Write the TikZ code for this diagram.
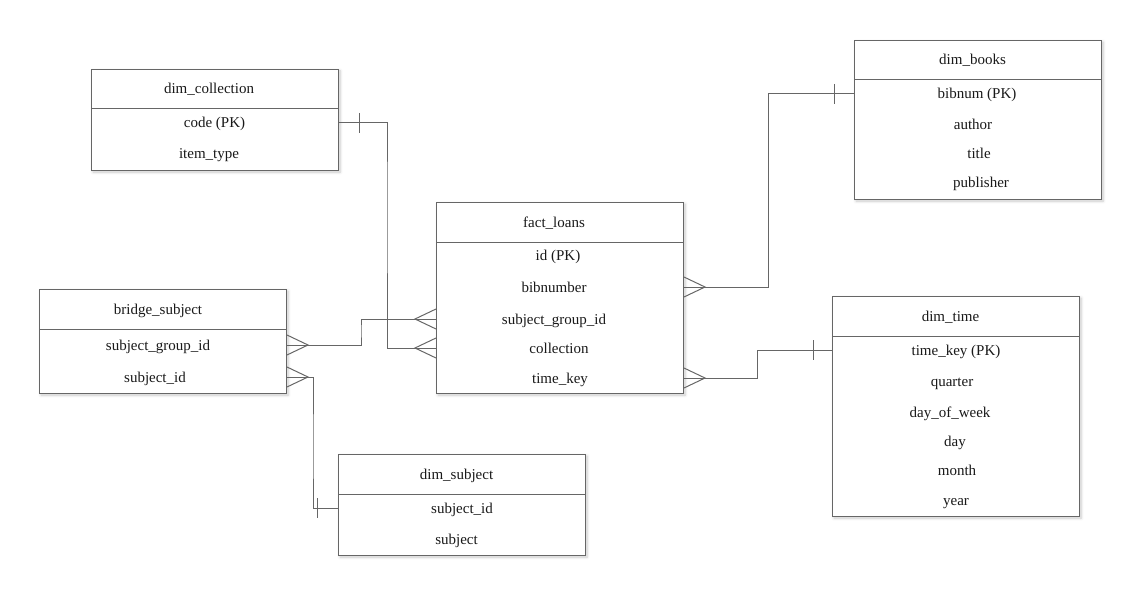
\documentclass[tikz,border=0pt]{standalone}
\usepackage{fontspec}
\setmainfont{Liberation Serif}
\usetikzlibrary{shadows.blur}
\definecolor{edge}{HTML}{666666}
\begin{document}
\begin{tikzpicture}[x=1pt,y=-1pt,
  tbl/.style={draw=edge, line width=1pt, fill=white, anchor=north west, inner sep=0pt,
    minimum width=247pt,
    blur shadow={shadow xshift=1.5pt, shadow yshift=-1.5pt, shadow blur steps=6,
      shadow opacity=22, shadow blur radius=3pt}},
  fld/.style={font=\fontsize{15}{17}\selectfont, inner sep=0pt, anchor=center,
    text height=11pt, text depth=1pt, text=black!90},
  link/.style={draw=edge, line width=1pt}]
\useasboundingbox (0,0) rectangle (1142,596);

% ---------- tables ----------
\node[tbl, minimum height=101pt] (col) at (91,69) {};
\draw[link] ([yshift=-40pt]col.north west) -- ([yshift=-40pt]col.north east);
\node[fld] (colh) at (209,89) {dim\_collection};
\node[fld] (colcode) at (214.5,123) {code (PK)};
\node[fld] (coltype) at (209,154) {item\_type};

\node[tbl, minimum height=159pt] (books) at (854,40) {};
\draw[link] ([yshift=-40pt]books.north west) -- ([yshift=-40pt]books.north east);
\node[fld] (booksh) at (972.5,60) {dim\_books};
\node[fld] (bbib) at (977,94) {bibnum (PK)};
\node[fld] (bauth) at (973,125) {author};
\node[fld] (btitle) at (979,154) {title};
\node[fld] (bpub) at (981,183) {publisher};

\node[tbl, minimum height=191pt] (fact) at (436,202) {};
\draw[link] ([yshift=-40pt]fact.north west) -- ([yshift=-40pt]fact.north east);
\node[fld] (facth) at (554,222) {fact\_loans};
\node[fld] (fid) at (558,255) {id (PK)};
\node[fld] (fbib) at (554,287) {bibnumber};
\node[fld] (fsg) at (554,319) {subject\_group\_id};
\node[fld] (fcoll) at (559,348) {collection};
\node[fld] (ftime) at (560,378) {time\_key};

\node[tbl, minimum height=104pt] (bridge) at (39,289) {};
\draw[link] ([yshift=-40pt]bridge.north west) -- ([yshift=-40pt]bridge.north east);
\node[fld] (bridgeh) at (158,309) {bridge\_subject};
\node[fld] (brsg) at (158,345) {subject\_group\_id};
\node[fld] (brsid) at (155,377) {subject\_id};

\node[tbl, minimum height=220pt] (time) at (832,296) {};
\draw[link] ([yshift=-40pt]time.north west) -- ([yshift=-40pt]time.north east);
\node[fld] (timeh) at (950.5,316) {dim\_time};
\node[fld] (tkey) at (956,350) {time\_key (PK)};
\node[fld] (tq) at (952,381) {quarter};
\node[fld] (tdow) at (950,412) {day\_of\_week};
\node[fld] (tday) at (955,441) {day};
\node[fld] (tmonth) at (957,470) {month};
\node[fld] (tyear) at (956,500) {year};

\node[tbl, minimum height=101pt] (subj) at (338,454) {};
\draw[link] ([yshift=-40pt]subj.north west) -- ([yshift=-40pt]subj.north east);
\node[fld] (subjh) at (456.5,474) {dim\_subject};
\node[fld] (ssid) at (462,508) {subject\_id};
\node[fld] (ssubj) at (456.5,539) {subject};

% ---------- connector end points ----------
\coordinate (colR) at (col.east |- colcode);
\coordinate (factLcoll) at (fact.west |- fcoll);
\coordinate (booksL) at (books.west |- bbib);
\coordinate (factRbib) at (fact.east |- fbib);
\coordinate (bridgeRsg) at (bridge.east |- brsg);
\coordinate (factLsg) at (fact.west |- fsg);
\coordinate (bridgeRsid) at (bridge.east |- brsid);
\coordinate (subjL) at (subj.west |- ssid);
\coordinate (factRtime) at (fact.east |- ftime);
\coordinate (timeL) at (time.west |- tkey);

% elbow points
\coordinate (e1) at (387,200);
\coordinate (e2) at (768,200);
\coordinate (e3) at (361,330);
\coordinate (e4) at (313,450);
\coordinate (e5) at (757,360);

% ---------- connectors ----------
\draw[link] (colR) -| (e1) |- (factLcoll);
\draw[link] (booksL) -| (e2) |- (factRbib);
\draw[link] (bridgeRsg) -| (e3) |- (factLsg);
\draw[link] (bridgeRsid) -| (e4) |- (subjL);
\draw[link] (factRtime) -| (e5) |- (timeL);

% ---------- "one" ticks ----------
\draw[link] ([xshift=20pt,yshift=10pt]colR) -- ([xshift=20pt,yshift=-10pt]colR);
\draw[link] ([xshift=-20pt,yshift=10pt]booksL) -- ([xshift=-20pt,yshift=-10pt]booksL);
\draw[link] ([xshift=-21pt,yshift=10pt]subjL) -- ([xshift=-21pt,yshift=-10pt]subjL);
\draw[link] ([xshift=-19pt,yshift=10pt]timeL) -- ([xshift=-19pt,yshift=-10pt]timeL);

% ---------- "many" crow's feet ----------
\draw[link] ([yshift=10pt]factLcoll) -- ([xshift=-21pt]factLcoll) -- ([yshift=-10pt]factLcoll);
\draw[link] ([yshift=10pt]factLsg) -- ([xshift=-21pt]factLsg) -- ([yshift=-10pt]factLsg);
\draw[link] ([yshift=10pt]factRbib) -- ([xshift=21pt]factRbib) -- ([yshift=-10pt]factRbib);
\draw[link] ([yshift=10pt]factRtime) -- ([xshift=21pt]factRtime) -- ([yshift=-10pt]factRtime);
\draw[link] ([yshift=10pt]bridgeRsg) -- ([xshift=21pt]bridgeRsg) -- ([yshift=-10pt]bridgeRsg);
\draw[link] ([yshift=10pt]bridgeRsid) -- ([xshift=21pt]bridgeRsid) -- ([yshift=-10pt]bridgeRsid);
\end{tikzpicture}
\end{document}
